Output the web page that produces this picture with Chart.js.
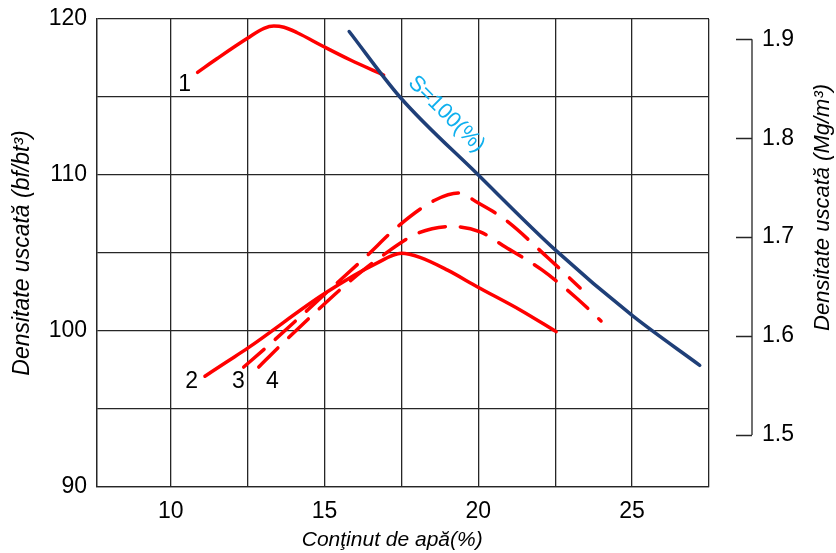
<!DOCTYPE html>
<html>
<head>
<meta charset="utf-8">
<script src="https://cdn.jsdelivr.net/npm/chart.js@4.4.1/dist/chart.umd.min.js"></script>
<style>
  html, body { margin: 0; padding: 0; background: #fff; }
  .wrap { width: 836px; height: 553px; position: relative; }
</style>
</head>
<body>
<div class="wrap"><canvas id="chart"></canvas></div>
<script>
// axes
const xGrid = [7.6, 10, 12.5, 15, 17.5, 20, 22.5, 25, 27.5];
const xTickLabels = [10, 15, 20, 25];
const yGrid = [90, 95, 100, 105, 110, 115, 120];
const yTickLabels = [90, 100, 110, 120];
const y2Ticks = [1.5, 1.6, 1.7, 1.8, 1.9];

// curves (water content %, dry density)
const curve1X = [10.87, 11.52, 12.49, 13.03, 13.35, 13.68, 14.11, 14.98, 15.84, 16.92];
const curve1Y = [116.58, 117.48, 118.76, 119.4, 119.55, 119.47, 119.12, 118.22, 117.37, 116.41];

const curve2X = [11.11, 11.8, 12.5, 15.0, 16.7, 17.5, 18.1, 19.0, 19.96, 21.36, 22.53];
const curve2Y = [97.1, 98.0, 98.9, 102.4, 104.35, 104.98, 104.72, 103.9, 102.84, 101.35, 99.96];

const curve3X = [12.37, 13.08, 14.16, 15.26, 16.33, 17.4, 18.6, 19.35, 20.0, 20.88, 22.27, 23.31];
const curve3Y = [97.69, 98.91, 100.83, 102.82, 104.74, 106.73, 108.4, 108.85, 108.2, 107.12, 104.68, 102.76];

const curve4X = [12.86, 13.51, 14.61, 15.68, 16.82, 18.05, 19.1, 20.06, 20.88, 22.08, 23.2, 23.99];
const curve4Y = [97.69, 98.97, 101.03, 102.95, 104.74, 106.28, 106.7, 106.35, 105.38, 103.9, 102.1, 100.64];

const satX = [15.8, 17.45, 20.0, 22.5, 25.0, 27.2];
const satY = [119.2, 115.0, 110.0, 105.2, 101.0, 97.8];

// curve labels: text, x, y
const curveLabels = [
  ['1', 10.45, 115.8],
  ['2', 10.68, 96.73],
  ['3', 12.2, 96.73],
  ['4', 13.3, 96.73]
];
const satLabel = ['S=100(%)', 18.96, 113.9];

const red = '#ff0000';
const navy = '#1f3f78';
const cyan = '#0fb0ee';
const gridColor = '#262626';
const fontFamily = "'Liberation Sans', Arial, sans-serif";

function toPoints(xs, ys) {
  return xs.map((x, i) => ({ x: x, y: ys[i] }));
}

const extras = {
  id: 'extras',
  afterDraw(chart) {
    const { ctx, chartArea, scales: { x, y, y2 } } = chart;
    ctx.save();

    // right axis line (1.5 .. 1.9) with ticks pointing left
    const axX = chartArea.right + 43;
    ctx.strokeStyle = gridColor;
    ctx.lineWidth = 1.3;
    ctx.beginPath();
    ctx.moveTo(axX, y2.getPixelForValue(y2Ticks[0]));
    ctx.lineTo(axX, y2.getPixelForValue(y2Ticks[y2Ticks.length - 1]));
    y2Ticks.forEach(v => {
      const py = Math.round(y2.getPixelForValue(v)) + 0.5;
      ctx.moveTo(axX - 16, py);
      ctx.lineTo(axX, py);
    });
    ctx.stroke();

    // curve numbers
    ctx.fillStyle = '#000';
    ctx.font = '23px ' + fontFamily;
    ctx.textAlign = 'center';
    ctx.textBaseline = 'middle';
    curveLabels.forEach(([t, vx, vy]) => {
      ctx.fillText(t, x.getPixelForValue(vx), y.getPixelForValue(vy));
    });

    // S=100 label along the saturation line
    const ang = Math.atan2(
      y.getPixelForValue(satY[2]) - y.getPixelForValue(satY[1]),
      x.getPixelForValue(satX[2]) - x.getPixelForValue(satX[1])
    );
    ctx.save();
    ctx.translate(x.getPixelForValue(satLabel[1]), y.getPixelForValue(satLabel[2]));
    ctx.rotate(ang);
    ctx.fillStyle = cyan;
    ctx.font = '22px ' + fontFamily;
    ctx.fillText(satLabel[0], 0, 0);
    ctx.restore();

    // axis titles
    ctx.fillStyle = '#000';
    ctx.font = 'italic 23px ' + fontFamily;
    ctx.save();
    ctx.translate(chartArea.left - 74, (chartArea.top + chartArea.bottom) / 2);
    ctx.rotate(-Math.PI / 2);
    ctx.fillText('Densitate uscată (bf/bt³)', 0, 0);
    ctx.restore();

    ctx.font = 'italic 22px ' + fontFamily;
    ctx.save();
    ctx.translate(chartArea.right + 114, y2.getPixelForValue(1.73));
    ctx.rotate(-Math.PI / 2);
    ctx.fillText('Densitate uscată (Mg/m³)', 0, 0);
    ctx.restore();

    ctx.font = 'italic 21px ' + fontFamily;
    ctx.fillText('Conţinut de apă(%)', x.getPixelForValue(17.2), chartArea.bottom + 53);

    ctx.restore();
  }
};

const lineBase = {
  showLine: true,
  pointRadius: 0,
  fill: false,
  cubicInterpolationMode: 'monotone',
  borderWidth: 3.5,
  borderCapStyle: 'round'
};

new Chart(document.getElementById('chart'), {
  type: 'scatter',
  plugins: [extras],
  data: {
    datasets: [
      { ...lineBase, data: toPoints(satX, satY), borderColor: navy },
      { ...lineBase, data: toPoints(curve1X, curve1Y), borderColor: red },
      { ...lineBase, data: toPoints(curve2X, curve2Y), borderColor: red },
      { ...lineBase, data: toPoints(curve3X, curve3Y), borderColor: red, borderDash: [27, 15] },
      { ...lineBase, data: toPoints(curve4X, curve4Y), borderColor: red, borderDash: [27, 15] }
    ]
  },
  options: {
    responsive: true,
    maintainAspectRatio: false,
    animation: false,
    layout: { padding: { top: 19, left: 0, right: 0, bottom: 0 } },
    scales: {
      x: {
        type: 'linear',
        min: 7.6,
        max: 27.5,
        afterBuildTicks: (axis) => { axis.ticks = xGrid.map(v => ({ value: v })); },
        ticks: {
          autoSkip: false,
          maxRotation: 0,
          padding: 11,
          color: '#000',
          font: { family: fontFamily, size: 23 },
          callback: (v) => xTickLabels.includes(v) ? String(v) : ''
        },
        grid: { color: gridColor, lineWidth: 1.3, drawTicks: false },
        border: { color: gridColor, width: 1.3 },
        afterFit: (axis) => { axis.height = 66; axis.paddingLeft = 0; axis.paddingRight = 0; }
      },
      y: {
        position: 'left',
        min: 90,
        max: 120,
        afterBuildTicks: (axis) => { axis.ticks = yGrid.map(v => ({ value: v })); },
        ticks: {
          autoSkip: false,
          padding: 10,
          color: '#000',
          font: { family: fontFamily, size: 23 },
          callback: (v) => yTickLabels.includes(v) ? String(v) : ''
        },
        grid: { color: gridColor, lineWidth: 1.3, drawTicks: false },
        border: { color: gridColor, width: 1.3 },
        afterFit: (axis) => { axis.width = 97; axis.paddingTop = 0; axis.paddingBottom = 0; }
      },
      y2: {
        position: 'right',
        min: 1.4473,
        max: 1.9205,
        afterBuildTicks: (axis) => { axis.ticks = y2Ticks.map(v => ({ value: v })); },
        ticks: {
          autoSkip: false,
          padding: 53,
          color: '#000',
          font: { family: fontFamily, size: 23 },
          callback: (v) => v.toFixed(1)
        },
        grid: { display: false, drawTicks: false },
        border: { display: false },
        afterFit: (axis) => { axis.width = 127; axis.paddingTop = 0; axis.paddingBottom = 0; }
      }
    },
    plugins: {
      legend: { display: false },
      tooltip: { enabled: false }
    }
  }
});
</script>
</body>
</html>
